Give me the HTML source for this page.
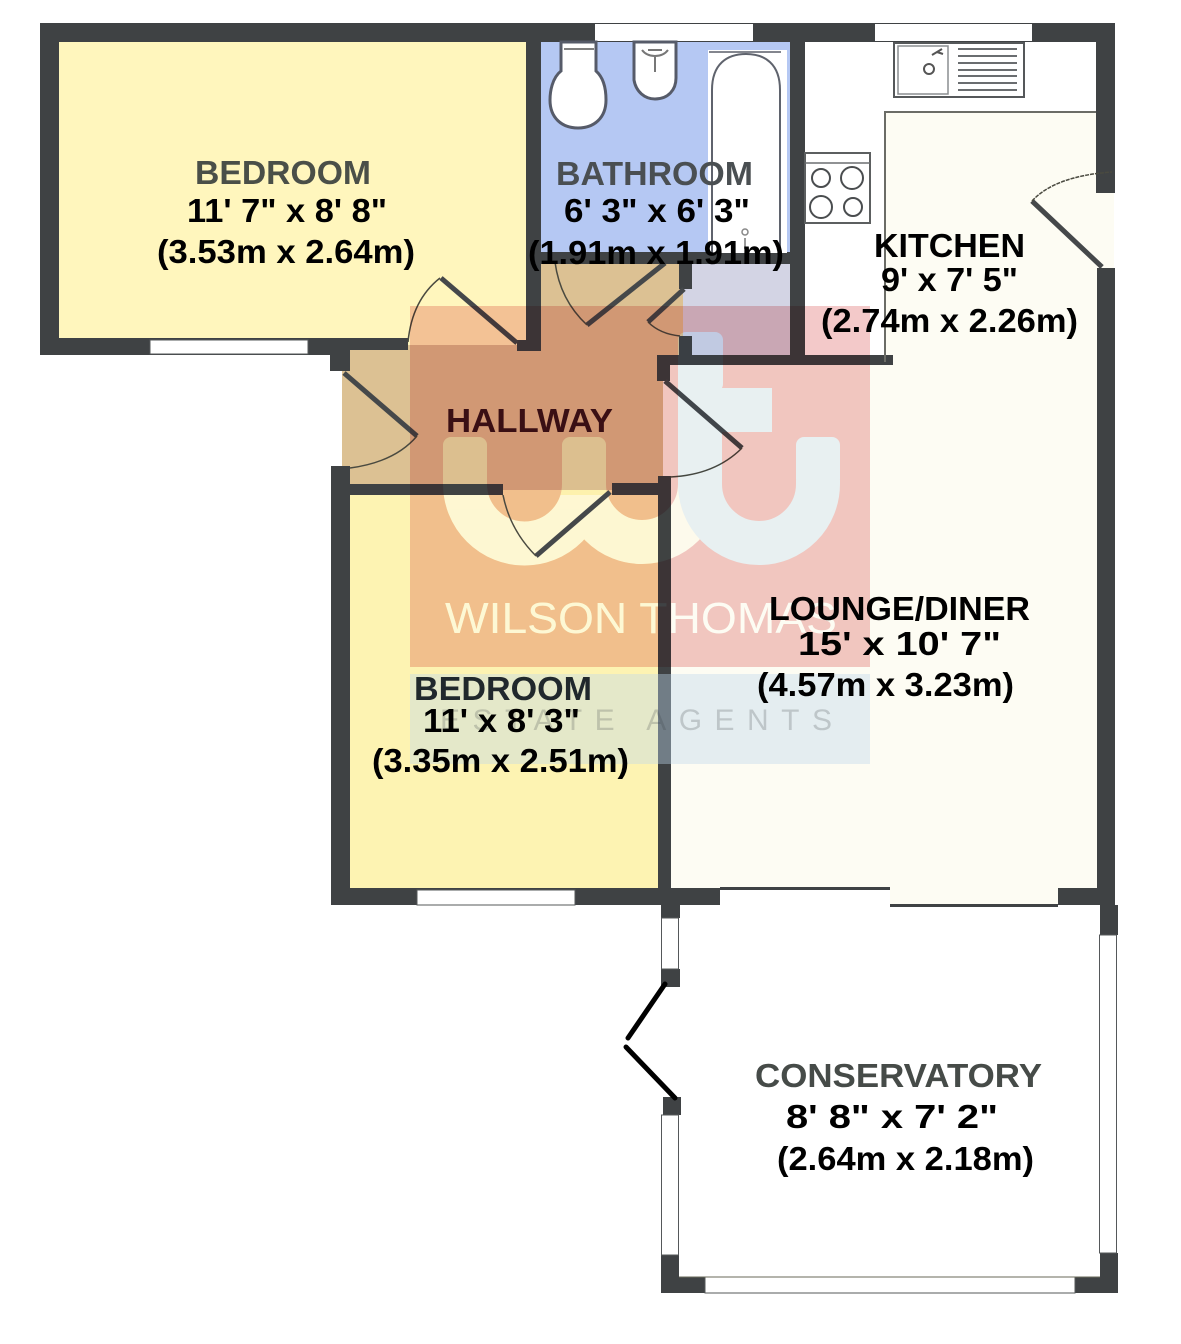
<!DOCTYPE html>
<html><head><meta charset="utf-8"><title>Floor plan</title>
<style>html,body{margin:0;padding:0;background:#fff}svg{display:block}
text{font-family:"Liberation Sans",sans-serif;font-weight:bold}</style></head>
<body>
<svg width="1181" height="1344" viewBox="0 0 1181 1344" xmlns="http://www.w3.org/2000/svg">
<defs><clipPath id="bed2"><rect x="350" y="495" width="308" height="172"/></clipPath></defs>
<rect width="1181" height="1344" fill="#fff"/>
<!-- room fills -->
<rect x="55" y="38" width="475" height="308" fill="#fff6bd"/>
<rect x="345" y="490" width="318" height="402" fill="#fdf3b2"/>
<rect x="536" y="38" width="258" height="220" fill="#b5c8f3"/>
<rect x="536" y="258" width="147" height="100" fill="#dcc193"/>
<rect x="342" y="345" width="321" height="145" fill="#dcc193"/>
<rect x="536" y="345" width="147" height="15" fill="#dcc193"/>
<rect x="683" y="258" width="110" height="100" fill="#d3d4e4"/>
<rect x="884" y="112" width="214" height="250" fill="#fdfcf3"/>
<rect x="663" y="362" width="438" height="526" fill="#fdfcf3"/>
<rect x="890" y="885" width="170" height="19" fill="#fdfcf3"/>
<rect x="1094" y="190" width="20" height="80" fill="#fdfcf3"/>
<!-- walls -->
<g fill="#3f4244">
<rect x="40" y="23" width="1075" height="19"/>
<rect x="40" y="23" width="19" height="332"/>
<rect x="40" y="338" width="295" height="17"/>
<rect x="330" y="338" width="78" height="12"/>
<rect x="330" y="338" width="20" height="33"/>
<rect x="517" y="340" width="24" height="11"/>
<rect x="526" y="23" width="15" height="328"/>
<rect x="790" y="23" width="15" height="342"/>
<rect x="541" y="252" width="264" height="12"/>
<rect x="679" y="252" width="13" height="37"/>
<rect x="679" y="336" width="13" height="20"/>
<rect x="657" y="355" width="236" height="10"/>
<rect x="657" y="355" width="13" height="26"/>
<rect x="1096" y="23" width="19" height="170"/>
<rect x="1097" y="268" width="18" height="637"/>
<rect x="331" y="466" width="19" height="439"/>
<rect x="331" y="484" width="172" height="11"/>
<rect x="612" y="483" width="59" height="12"/>
<rect x="658" y="476" width="13" height="429"/>
<rect x="331" y="888" width="389" height="17"/>
<rect x="1058" y="888" width="57" height="17"/>
<rect x="661" y="905" width="19" height="13"/>
<rect x="661" y="969" width="19" height="18"/>
<rect x="663" y="1097" width="18" height="18"/>
<rect x="661" y="1255" width="18" height="38"/>
<rect x="661" y="1277" width="45" height="16"/>
<rect x="1075" y="1277" width="43" height="16"/>
<rect x="1100" y="1253" width="18" height="40"/>
<rect x="1100" y="905" width="18" height="30"/>
<rect x="720" y="887" width="170" height="3"/>
<rect x="890" y="904" width="168" height="3"/>
</g>
<!-- windows -->
<g fill="#fff" stroke="#55585a" stroke-width="1">
<rect x="150" y="340" width="158" height="14"/>
<rect x="595" y="24" width="158" height="17" stroke="none"/>
<rect x="875" y="24" width="157" height="17" stroke="none"/>
<rect x="417" y="890" width="158" height="15"/>
<rect x="661.5" y="918" width="17" height="51"/>
<rect x="661.5" y="1115" width="17" height="140"/>
<rect x="705" y="1277" width="370" height="16"/>
<rect x="1099.5" y="935" width="17" height="318"/>
</g>
<line x1="679" y1="1277" x2="1100" y2="1277" stroke="#6a6a5a" stroke-width="1"/>
<!-- kitchen counter -->
<path d="M1096 112H885V362" fill="none" stroke="#6b6c66" stroke-width="2"/>
<!-- sink -->
<rect x="894" y="43" width="130" height="54" fill="#fff" stroke="#55585a" stroke-width="2"/>
<rect x="898" y="46" width="50" height="48" fill="#fff" stroke="#8a8d90" stroke-width="1.5"/>
<circle cx="929" cy="69" r="5" fill="none" stroke="#555" stroke-width="2"/>
<path d="M932 55l10-6M937 52l6 2" stroke="#555" stroke-width="2" fill="none"/>
<g stroke="#6a6d70" stroke-width="2">
<line x1="958" y1="49" x2="1017" y2="49"/><line x1="958" y1="56" x2="1017" y2="56"/>
<line x1="958" y1="63" x2="1017" y2="63"/><line x1="958" y1="70" x2="1017" y2="70"/>
<line x1="958" y1="76" x2="1017" y2="76"/><line x1="958" y1="83" x2="1017" y2="83"/>
<line x1="958" y1="90" x2="1017" y2="90"/></g>
<!-- hob -->
<rect x="805" y="153" width="65" height="70" fill="#fff" stroke="#5c5f60" stroke-width="2"/>
<line x1="805" y1="163" x2="870" y2="163" stroke="#6b6e70" stroke-width="1.5"/>
<g fill="none" stroke="#4a4d4f" stroke-width="2">
<circle cx="821" cy="178" r="9"/><circle cx="852" cy="178" r="11"/>
<circle cx="821" cy="207" r="11"/><circle cx="853" cy="207" r="9"/></g>
<!-- bath -->
<rect x="708" y="50" width="79" height="203" fill="#fff"/>
<path d="M709 52H781" stroke="#5a5e68" stroke-width="1.5"/>
<path d="M712 253V90C712 64 727 54 746 54C765 54 780 64 780 90V253" fill="none" stroke="#5f636d" stroke-width="2"/>
<circle cx="745" cy="232" r="3" fill="none" stroke="#888" stroke-width="1.5"/>
<line x1="745" y1="238" x2="745" y2="249" stroke="#999" stroke-width="2"/>
<!-- toilet -->
<path d="M561 42V71C552 78 550 92 550 100C550 118 562 128 578 128C594 128 606 118 606 100C606 90 604 78 596 71V42Z" fill="#fff" stroke="#565b69" stroke-width="3"/>
<line x1="564" y1="49" x2="594" y2="49" stroke="#555" stroke-width="1.5"/>
<!-- basin -->
<path d="M634 42V80C636 92 645 99 655 99C668 99 676 90 676 78V42C665 42 645 42 634 42Z" fill="#fff" stroke="#565b69" stroke-width="3"/>
<path d="M642 50C648 58 662 58 668 50M648 50H662M655 56V72" fill="none" stroke="#777" stroke-width="2"/>
<!-- conservatory door -->
<g stroke="#000" stroke-width="5" stroke-linecap="round">
<line x1="665" y1="984" x2="628" y2="1038"/>
<line x1="626" y1="1047" x2="675" y2="1098"/>
</g>
<!-- doors other than bedroom 2 -->
<g fill="none" stroke="#45484a" stroke-width="5">
<path d="M517 343L441 278"/>
<path d="M665 263L587 325"/>
<path d="M684 289L648 322"/>
<path d="M344 373L417 436"/>
<path d="M665 381L742 448"/>
<path d="M1102 267L1032 201"/>
</g>
<g fill="none" stroke="#4a4a40" stroke-width="1.5">
<path d="M440 278Q412 300 408 342"/>
<path d="M587 325Q560 300 555 262"/>
<path d="M648 322Q660 334 680 336"/>
<path d="M417 436Q395 462 350 468"/>
<path d="M742 448Q715 475 670 477"/>
<path d="M1032 201Q1055 176 1112 172" stroke-dasharray="4 1"/>
</g>
<!-- watermark: multiply layer with pale letter shapes -->
<g style="mix-blend-mode:multiply">
<rect x="410" y="306" width="460" height="361" fill="#f3c9c9"/>
<g fill="#fffdf8">
<rect x="443" y="437" width="44" height="50" rx="8"/>
<rect x="562" y="437" width="44" height="50" rx="8"/>
</g>
<path d="M465 480V484A59.5 59.5 0 0 0 584 484V480" fill="none" stroke="#fffdf8" stroke-width="44"/>
<path d="M584 484A58 58 0 0 0 700 484" fill="none" stroke="#fffdf8" stroke-width="44"/>
<g fill="#eaf3fd">
<rect x="678" y="332" width="45" height="60" rx="8"/>
<rect x="796" y="437" width="44" height="50" rx="8"/>
<rect x="700" y="388" width="72" height="44"/>
</g>
<path d="M700 370V484A59 59 0 0 0 818 484V480" fill="none" stroke="#eaf3fd" stroke-width="44"/>
<text x="445" y="633" font-size="44" textLength="392" lengthAdjust="spacingAndGlyphs" fill="#fff" style="font-weight:normal">WILSON THOMAS</text>
</g>
<!-- lighten letterforms over the yellow bedroom -->
<g clip-path="url(#bed2)" opacity=".45">
<path d="M465 484A59.5 59.5 0 0 0 584 484M584 484A58 58 0 0 0 700 484" fill="none" stroke="#fff" stroke-width="44"/>
<text x="445" y="633" font-size="44" textLength="392" lengthAdjust="spacingAndGlyphs" fill="#fff" style="font-weight:normal">WILSON THOMAS</text>
</g>
<!-- bedroom 2 door, drawn above the lightening layer -->
<path d="M610 492L536 556" fill="none" stroke="#45484a" stroke-width="5"/>
<path d="M536 556Q510 530 503 495" fill="none" stroke="#4a4a40" stroke-width="1.5"/>
<rect x="410" y="674" width="460" height="90" fill="#bed7eb" opacity=".4"/>
<text x="440" y="730" font-size="30" textLength="392" fill="#3a3f44" opacity=".22" style="font-weight:normal">ESTATE AGENTS</text>
<!-- labels -->
<g font-size="33" fill="#000">
<text x="195" y="184" textLength="176" lengthAdjust="spacingAndGlyphs" fill="#4a4f48">BEDROOM</text>
<text x="187" y="222" textLength="200" lengthAdjust="spacingAndGlyphs">11' 7" x 8' 8"</text>
<text x="157" y="263" textLength="258" lengthAdjust="spacingAndGlyphs">(3.53m x 2.64m)</text>
<text x="556" y="185" textLength="197" lengthAdjust="spacingAndGlyphs" fill="#4a4f52">BATHROOM</text>
<text x="564" y="222" textLength="186" lengthAdjust="spacingAndGlyphs">6' 3" x 6' 3"</text>
<text x="528" y="264" textLength="256" lengthAdjust="spacingAndGlyphs">(1.91m x 1.91m)</text>
<text x="874" y="257" textLength="151" lengthAdjust="spacingAndGlyphs">KITCHEN</text>
<text x="881" y="291" textLength="137" lengthAdjust="spacingAndGlyphs">9' x 7' 5"</text>
<text x="821" y="332" textLength="257" lengthAdjust="spacingAndGlyphs">(2.74m x 2.26m)</text>
<text x="446" y="432" textLength="167" lengthAdjust="spacingAndGlyphs" fill="#3a0f14">HALLWAY</text>
<text x="769" y="620" textLength="261" lengthAdjust="spacingAndGlyphs">LOUNGE/DINER</text>
<text x="798" y="655" textLength="203" lengthAdjust="spacingAndGlyphs">15' x 10' 7"</text>
<text x="757" y="696" textLength="257" lengthAdjust="spacingAndGlyphs">(4.57m x 3.23m)</text>
<text x="414" y="700" textLength="178" lengthAdjust="spacingAndGlyphs" fill="#20282c">BEDROOM</text>
<text x="423" y="732" textLength="157" lengthAdjust="spacingAndGlyphs">11' x 8' 3"</text>
<text x="372" y="772" textLength="257" lengthAdjust="spacingAndGlyphs">(3.35m x 2.51m)</text>
<text x="755" y="1087" textLength="287" lengthAdjust="spacingAndGlyphs" fill="#464b48">CONSERVATORY</text>
<text x="786" y="1128" textLength="212" lengthAdjust="spacingAndGlyphs">8' 8" x 7' 2"</text>
<text x="777" y="1170" textLength="257" lengthAdjust="spacingAndGlyphs">(2.64m x 2.18m)</text>
</g>
</svg>
</body></html>
